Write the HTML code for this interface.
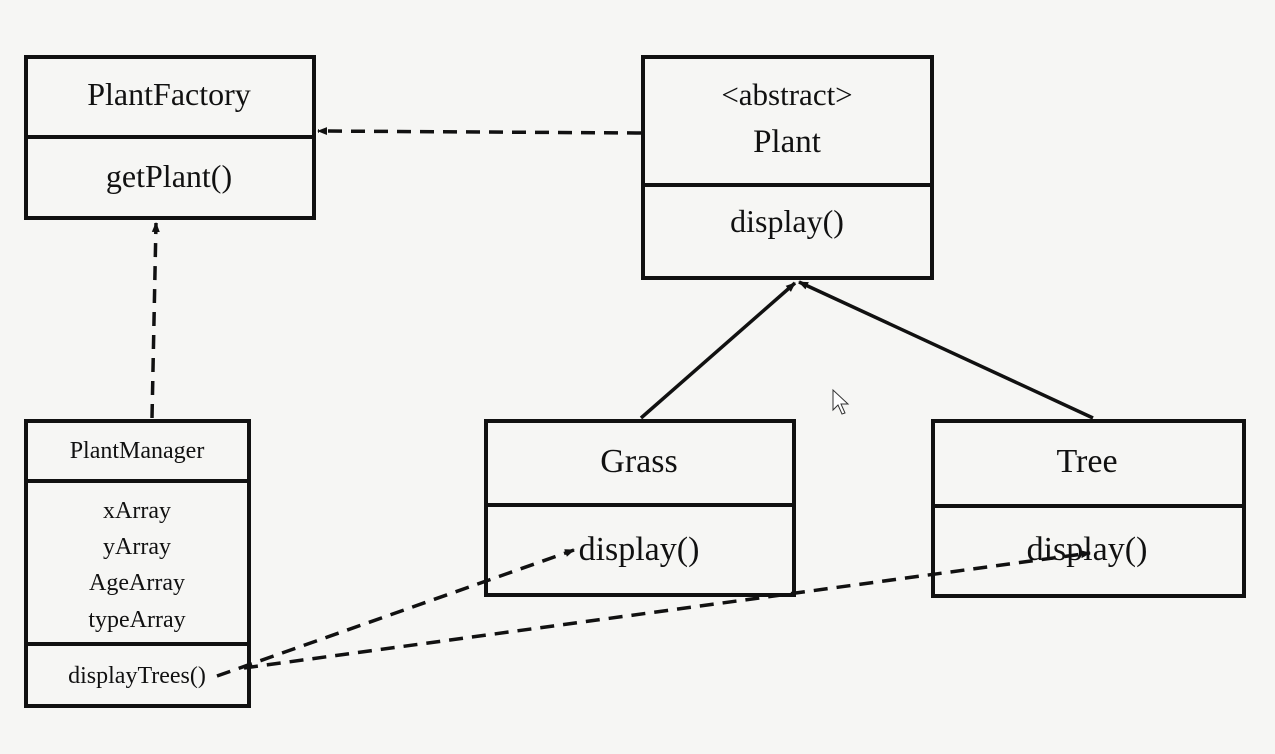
<!DOCTYPE html>
<html><head><meta charset="utf-8"><style>
html,body{margin:0;padding:0;background:#f6f6f4;}
svg{display:block}
text{font-family:"Liberation Serif",serif;fill:#111;text-anchor:middle}
</style></head><body>
<svg width="1275" height="754" viewBox="0 0 1275 754">
<rect width="1275" height="754" fill="#f6f6f4"/>
<defs>
<marker id="a" markerWidth="10" markerHeight="10" refX="9" refY="5" orient="auto" markerUnits="userSpaceOnUse">
<path d="M0,1 L10,5 L0,9 z" fill="#111"/></marker>
</defs>
<g fill="none" stroke="#111" stroke-width="4">
<rect x="26" y="57" width="288" height="161"/><line x1="26" y1="137" x2="314" y2="137"/>
<rect x="643" y="57" width="289" height="221"/><line x1="643" y1="185" x2="932" y2="185"/>
<rect x="26" y="421" width="223" height="285"/><line x1="26" y1="481" x2="249" y2="481"/><line x1="26" y1="644" x2="249" y2="644"/>
<rect x="486" y="421" width="308" height="174"/><line x1="486" y1="505" x2="794" y2="505"/>
<rect x="933" y="421" width="311" height="175"/><line x1="933" y1="506" x2="1244" y2="506"/>
</g>
<g fill="none" stroke="#111" stroke-width="3.5">
<line x1="641" y1="133" x2="318" y2="131" stroke-dasharray="14,9" marker-end="url(#a)"/>
<line x1="152" y1="418" x2="156" y2="223" stroke-dasharray="14,9" marker-end="url(#a)"/>
<line x1="641" y1="418" x2="795" y2="283" marker-end="url(#a)"/>
<line x1="1093" y1="418" x2="799" y2="282" marker-end="url(#a)"/>
<line x1="217" y1="676" x2="574" y2="550" stroke-dasharray="14,9" marker-end="url(#a)"/>
<line x1="244" y1="668" x2="1090" y2="553" stroke-dasharray="14,9" marker-end="url(#a)"/>
</g>
<text x="169" y="105" font-size="32">PlantFactory</text>
<text x="169" y="187" font-size="32">getPlant()</text>
<text x="787" y="105" font-size="31">&lt;abstract&gt;</text>
<text x="787" y="152" font-size="33">Plant</text>
<text x="787" y="232" font-size="32">display()</text>
<text x="137" y="458" font-size="24">PlantManager</text>
<text x="137" y="518" font-size="24">xArray</text>
<text x="137" y="554" font-size="24">yArray</text>
<text x="137" y="590" font-size="24">AgeArray</text>
<text x="137" y="627" font-size="24">typeArray</text>
<text x="137" y="683" font-size="24">displayTrees()</text>
<text x="639" y="472" font-size="34">Grass</text>
<text x="639" y="560" font-size="34">display()</text>
<text x="1087" y="472" font-size="34">Tree</text>
<text x="1087" y="560" font-size="34">display()</text>
<path d="M833,390 L833,410 L838,405 L842,414 L845,413 L841,404 L848,404 Z" fill="#fff" stroke="#333" stroke-width="1"/>
</svg>
</body></html>
